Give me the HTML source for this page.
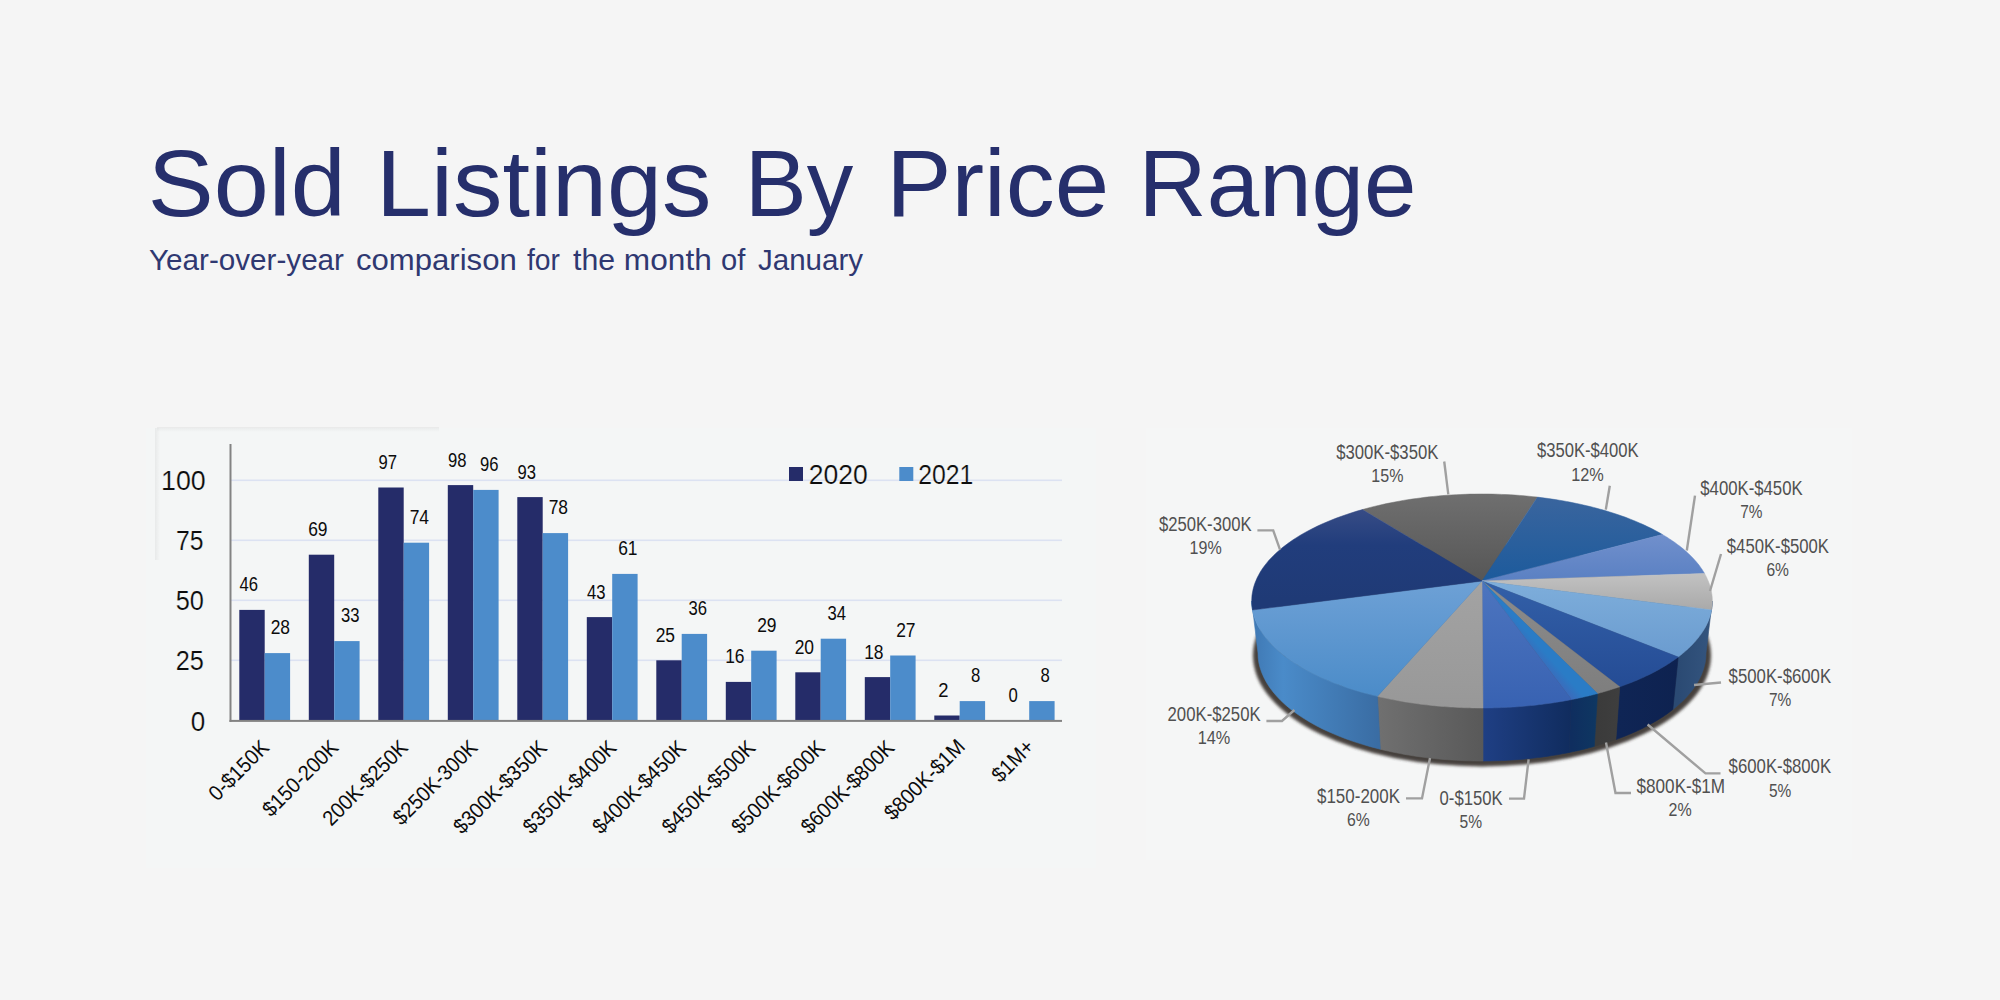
<!DOCTYPE html>
<html lang="en"><head><meta charset="utf-8"><title>Sold Listings By Price Range</title>
<style>
html,body{margin:0;padding:0;background:#f5f5f5;}
body{width:2000px;height:1000px;overflow:hidden;}
svg{display:block;}
text{font-family:"Liberation Sans",sans-serif;}
</style></head><body>
<svg width="2000" height="1000" viewBox="0 0 2000 1000">
<defs>
<filter id="blur3" x="-10%" y="-10%" width="120%" height="120%"><feGaussianBlur stdDeviation="1.6"/></filter>
<filter id="blur6" x="-10%" y="-10%" width="120%" height="120%"><feGaussianBlur stdDeviation="5"/></filter>
<linearGradient id="fadeL" x1="0" y1="0" x2="0" y2="1"><stop offset="0" stop-color="#000" stop-opacity="0.05"/><stop offset="1" stop-color="#000" stop-opacity="0"/></linearGradient>
<linearGradient id="fadeT" x1="0" y1="0" x2="1" y2="0"><stop offset="0" stop-color="#000" stop-opacity="0.05"/><stop offset="1" stop-color="#000" stop-opacity="0"/></linearGradient>

<linearGradient id="g_s300" gradientUnits="userSpaceOnUse" x1="0" y1="494" x2="0" y2="585"><stop offset="0" stop-color="#6f6f6f"/><stop offset="1" stop-color="#555555"/></linearGradient>
<linearGradient id="g_s350" gradientUnits="userSpaceOnUse" x1="0" y1="496" x2="0" y2="585"><stop offset="0" stop-color="#3a659e"/><stop offset="1" stop-color="#1b5a9c"/></linearGradient>
<linearGradient id="g_s400" gradientUnits="userSpaceOnUse" x1="0" y1="530" x2="0" y2="585"><stop offset="0" stop-color="#7391cd"/><stop offset="1" stop-color="#587fc2"/></linearGradient>
<linearGradient id="g_s450" gradientUnits="userSpaceOnUse" x1="0" y1="570" x2="0" y2="615"><stop offset="0" stop-color="#c4c4c4"/><stop offset="1" stop-color="#a6a6a6"/></linearGradient>
<linearGradient id="g_s500" gradientUnits="userSpaceOnUse" x1="0" y1="580" x2="0" y2="660"><stop offset="0" stop-color="#7eaedb"/><stop offset="1" stop-color="#6a9bcf"/></linearGradient>
<linearGradient id="g_s600" gradientUnits="userSpaceOnUse" x1="0" y1="580" x2="0" y2="690"><stop offset="0" stop-color="#3360a8"/><stop offset="1" stop-color="#244b94"/></linearGradient>
<linearGradient id="g_s800" gradientUnits="userSpaceOnUse" x1="0" y1="580" x2="0" y2="695"><stop offset="0" stop-color="#8c8c8c"/><stop offset="1" stop-color="#7e7e7e"/></linearGradient>
<linearGradient id="g_s1m" gradientUnits="userSpaceOnUse" x1="1474" y1="588.1" x2="1487.5" y2="576.2"><stop offset="0" stop-color="#3b6bbb"/><stop offset="0.6" stop-color="#2a7cc6"/><stop offset="1" stop-color="#2a7cc6"/></linearGradient>
<linearGradient id="g_s0" gradientUnits="userSpaceOnUse" x1="0" y1="580" x2="0" y2="708"><stop offset="0" stop-color="#4d75bf"/><stop offset="1" stop-color="#3862b2"/></linearGradient>
<linearGradient id="g_s150" gradientUnits="userSpaceOnUse" x1="0" y1="580" x2="0" y2="708"><stop offset="0" stop-color="#a3a3a3"/><stop offset="1" stop-color="#989898"/></linearGradient>
<linearGradient id="g_s200" gradientUnits="userSpaceOnUse" x1="0" y1="580" x2="0" y2="700"><stop offset="0" stop-color="#6ea1d6"/><stop offset="1" stop-color="#4a8bc8"/></linearGradient>
<linearGradient id="g_s250" gradientUnits="userSpaceOnUse" x1="0" y1="500" x2="0" y2="600"><stop offset="0" stop-color="#3d5088"/><stop offset="0.45" stop-color="#213d7c"/><stop offset="1" stop-color="#1f3a76"/></linearGradient>
<linearGradient id="g_w500" gradientUnits="userSpaceOnUse" x1="1678.2" y1="0" x2="1712.3" y2="0"><stop offset="0" stop-color="#2b4a73"/><stop offset="1" stop-color="#34557f"/></linearGradient>
<linearGradient id="g_w600" gradientUnits="userSpaceOnUse" x1="1619.7" y1="0" x2="1678.2" y2="0"><stop offset="0" stop-color="#0f2555"/><stop offset="1" stop-color="#0e2250"/></linearGradient>
<linearGradient id="g_w800" gradientUnits="userSpaceOnUse" x1="1597.5" y1="0" x2="1619.7" y2="0"><stop offset="0" stop-color="#3b3b3b"/><stop offset="1" stop-color="#3e3e3e"/></linearGradient>
<linearGradient id="g_w1m" gradientUnits="userSpaceOnUse" x1="1571.5" y1="0" x2="1597.5" y2="0"><stop offset="0" stop-color="#0f2e5f"/><stop offset="1" stop-color="#0e3762"/></linearGradient>
<linearGradient id="g_w0" gradientUnits="userSpaceOnUse" x1="1483.0" y1="0" x2="1571.5" y2="0"><stop offset="0" stop-color="#1f3f84"/><stop offset="1" stop-color="#102c5e"/></linearGradient>
<linearGradient id="g_w150" gradientUnits="userSpaceOnUse" x1="1377.5" y1="0" x2="1483.0" y2="0"><stop offset="0" stop-color="#707070"/><stop offset="1" stop-color="#595959"/></linearGradient>
<linearGradient id="g_w200" gradientUnits="userSpaceOnUse" x1="1251.7" y1="0" x2="1377.5" y2="0"><stop offset="0" stop-color="#3f78b3"/><stop offset="0.25" stop-color="#4a8bc9"/><stop offset="1" stop-color="#3a6da4"/></linearGradient>
</defs>
<rect width="2000" height="1000" fill="#f5f5f5"/>
<rect x="146" y="428" width="950" height="440" fill="#f4f6f6"/>
<rect x="1146" y="428" width="706" height="432" fill="#f5f6f6"/>
<rect x="157" y="427" width="282" height="5" fill="url(#fadeL)"/>
<rect x="155" y="428" width="5" height="132" fill="url(#fadeT)"/>
<text x="147.85" y="216" font-size="95.4" fill="#262f6c" textLength="198.03" lengthAdjust="spacingAndGlyphs">Sold</text>
<text x="376.14" y="216" font-size="95.4" fill="#262f6c" textLength="335.25" lengthAdjust="spacingAndGlyphs">Listings</text>
<text x="744.68" y="216" font-size="95.4" fill="#262f6c" textLength="108.53" lengthAdjust="spacingAndGlyphs">By</text>
<text x="886.32" y="216" font-size="95.4" fill="#262f6c" textLength="222.83" lengthAdjust="spacingAndGlyphs">Price</text>
<text x="1138.58" y="216" font-size="95.4" fill="#262f6c" textLength="277.93" lengthAdjust="spacingAndGlyphs">Range</text>
<text x="149.00" y="269.6" font-size="30" fill="#2f3871" textLength="194.99" lengthAdjust="spacingAndGlyphs">Year-over-year</text>
<text x="355.96" y="269.6" font-size="30" fill="#2f3871" textLength="160.78" lengthAdjust="spacingAndGlyphs">comparison</text>
<text x="527.00" y="269.6" font-size="30" fill="#2f3871" textLength="32.99" lengthAdjust="spacingAndGlyphs">for</text>
<text x="573.00" y="269.6" font-size="30" fill="#2f3871" textLength="42.09" lengthAdjust="spacingAndGlyphs">the</text>
<text x="623.89" y="269.6" font-size="30" fill="#2f3871" textLength="87.88" lengthAdjust="spacingAndGlyphs">month</text>
<text x="721.03" y="269.6" font-size="30" fill="#2f3871" textLength="24.33" lengthAdjust="spacingAndGlyphs">of</text>
<text x="758.00" y="269.6" font-size="30" fill="#2f3871" textLength="105.00" lengthAdjust="spacingAndGlyphs">January</text>
<g id="bars">
<rect x="230.5" y="659.5" width="831.5" height="1.6" fill="#dce2f2"/>
<rect x="230.5" y="599.5" width="831.5" height="1.6" fill="#dce2f2"/>
<rect x="230.5" y="539.5" width="831.5" height="1.6" fill="#dce2f2"/>
<rect x="230.5" y="479.5" width="831.5" height="1.6" fill="#dce2f2"/>
<rect x="239.3" y="609.9" width="25.4" height="110.8" fill="#252c69"/>
<rect x="264.7" y="653.1" width="25.4" height="67.6" fill="#4c8ccb"/>
<rect x="308.8" y="554.7" width="25.4" height="166.0" fill="#252c69"/>
<rect x="334.2" y="641.1" width="25.4" height="79.6" fill="#4c8ccb"/>
<rect x="378.3" y="487.5" width="25.4" height="233.2" fill="#252c69"/>
<rect x="403.7" y="542.7" width="25.4" height="178.0" fill="#4c8ccb"/>
<rect x="447.8" y="485.1" width="25.4" height="235.6" fill="#252c69"/>
<rect x="473.2" y="489.9" width="25.4" height="230.8" fill="#4c8ccb"/>
<rect x="517.3" y="497.1" width="25.4" height="223.6" fill="#252c69"/>
<rect x="542.7" y="533.1" width="25.4" height="187.6" fill="#4c8ccb"/>
<rect x="586.8" y="617.1" width="25.4" height="103.6" fill="#252c69"/>
<rect x="612.2" y="573.9" width="25.4" height="146.8" fill="#4c8ccb"/>
<rect x="656.3" y="660.3" width="25.4" height="60.4" fill="#252c69"/>
<rect x="681.7" y="633.9" width="25.4" height="86.8" fill="#4c8ccb"/>
<rect x="725.8" y="681.9" width="25.4" height="38.8" fill="#252c69"/>
<rect x="751.2" y="650.7" width="25.4" height="70.0" fill="#4c8ccb"/>
<rect x="795.3" y="672.3" width="25.4" height="48.4" fill="#252c69"/>
<rect x="820.7" y="638.7" width="25.4" height="82.0" fill="#4c8ccb"/>
<rect x="864.8" y="677.1" width="25.4" height="43.6" fill="#252c69"/>
<rect x="890.2" y="655.5" width="25.4" height="65.2" fill="#4c8ccb"/>
<rect x="934.3" y="715.5" width="25.4" height="5.2" fill="#252c69"/>
<rect x="959.7" y="701.1" width="25.4" height="19.6" fill="#4c8ccb"/>
<rect x="1029.2" y="701.1" width="25.4" height="19.6" fill="#4c8ccb"/>
<rect x="229.5" y="444" width="2" height="277.9" fill="#838383"/>
<rect x="229.5" y="719.9" width="832.5" height="2" fill="#838383"/>
<text x="239.50" y="591.4" font-size="20" fill="#0c0c0c" textLength="18.50" lengthAdjust="spacingAndGlyphs">46</text>
<text x="270.63" y="634.4" font-size="20" fill="#0c0c0c" textLength="19.38" lengthAdjust="spacingAndGlyphs">28</text>
<text x="308.13" y="536.2" font-size="20" fill="#0c0c0c" textLength="19.38" lengthAdjust="spacingAndGlyphs">69</text>
<text x="341.00" y="622.4" font-size="20" fill="#0c0c0c" textLength="18.50" lengthAdjust="spacingAndGlyphs">33</text>
<text x="378.50" y="469.0" font-size="20" fill="#0c0c0c" textLength="18.50" lengthAdjust="spacingAndGlyphs">97</text>
<text x="409.63" y="524.0" font-size="20" fill="#0c0c0c" textLength="19.38" lengthAdjust="spacingAndGlyphs">74</text>
<text x="448.00" y="466.6" font-size="20" fill="#0c0c0c" textLength="18.50" lengthAdjust="spacingAndGlyphs">98</text>
<text x="480.00" y="471.2" font-size="20" fill="#0c0c0c" textLength="18.50" lengthAdjust="spacingAndGlyphs">96</text>
<text x="517.50" y="478.6" font-size="20" fill="#0c0c0c" textLength="18.50" lengthAdjust="spacingAndGlyphs">93</text>
<text x="548.63" y="514.4" font-size="20" fill="#0c0c0c" textLength="19.38" lengthAdjust="spacingAndGlyphs">78</text>
<text x="587.00" y="598.6" font-size="20" fill="#0c0c0c" textLength="18.50" lengthAdjust="spacingAndGlyphs">43</text>
<text x="618.13" y="555.2" font-size="20" fill="#0c0c0c" textLength="19.38" lengthAdjust="spacingAndGlyphs">61</text>
<text x="655.63" y="641.8" font-size="20" fill="#0c0c0c" textLength="19.38" lengthAdjust="spacingAndGlyphs">25</text>
<text x="688.50" y="615.2" font-size="20" fill="#0c0c0c" textLength="18.50" lengthAdjust="spacingAndGlyphs">36</text>
<text x="725.13" y="663.4" font-size="20" fill="#0c0c0c" textLength="19.38" lengthAdjust="spacingAndGlyphs">16</text>
<text x="757.13" y="632.0" font-size="20" fill="#0c0c0c" textLength="19.38" lengthAdjust="spacingAndGlyphs">29</text>
<text x="794.63" y="653.8" font-size="20" fill="#0c0c0c" textLength="19.38" lengthAdjust="spacingAndGlyphs">20</text>
<text x="827.50" y="620.0" font-size="20" fill="#0c0c0c" textLength="18.50" lengthAdjust="spacingAndGlyphs">34</text>
<text x="864.13" y="658.6" font-size="20" fill="#0c0c0c" textLength="19.38" lengthAdjust="spacingAndGlyphs">18</text>
<text x="896.13" y="636.8" font-size="20" fill="#0c0c0c" textLength="19.38" lengthAdjust="spacingAndGlyphs">27</text>
<text x="938.18" y="697.0" font-size="20" fill="#0c0c0c" textLength="10.23" lengthAdjust="spacingAndGlyphs">2</text>
<text x="971.10" y="682.4" font-size="20" fill="#0c0c0c" textLength="9.30" lengthAdjust="spacingAndGlyphs">8</text>
<text x="1008.60" y="701.8" font-size="20" fill="#0c0c0c" textLength="9.30" lengthAdjust="spacingAndGlyphs">0</text>
<text x="1040.60" y="682.4" font-size="20" fill="#0c0c0c" textLength="9.30" lengthAdjust="spacingAndGlyphs">8</text>
<text x="161.07" y="490" font-size="27.8" fill="#0c0c0c" textLength="44.67" lengthAdjust="spacingAndGlyphs" stroke="#f4f6f6" stroke-width="0.2">100</text>
<text x="175.91" y="550" font-size="27.8" fill="#0c0c0c" textLength="27.50" lengthAdjust="spacingAndGlyphs" stroke="#f4f6f6" stroke-width="0.2">75</text>
<text x="175.79" y="610.3" font-size="27.8" fill="#0c0c0c" textLength="28.13" lengthAdjust="spacingAndGlyphs" stroke="#f4f6f6" stroke-width="0.2">50</text>
<text x="175.79" y="670.4" font-size="27.8" fill="#0c0c0c" textLength="28.13" lengthAdjust="spacingAndGlyphs" stroke="#f4f6f6" stroke-width="0.2">25</text>
<text x="190.66" y="730.6" font-size="27.8" fill="#0c0c0c" textLength="14.47" lengthAdjust="spacingAndGlyphs" stroke="#f4f6f6" stroke-width="0.2">0</text>
<text x="-75.50" y="0" font-size="21.4" fill="#0c0c0c" textLength="74.82" lengthAdjust="spacingAndGlyphs" transform="translate(270.7,748.5) rotate(-45)">0-$150K</text>
<text x="-98.00" y="0" font-size="21.4" fill="#0c0c0c" textLength="97.32" lengthAdjust="spacingAndGlyphs" transform="translate(340.2,748.5) rotate(-45)">$150-200K</text>
<text x="-110.93" y="0" font-size="21.4" fill="#0c0c0c" textLength="110.25" lengthAdjust="spacingAndGlyphs" transform="translate(409.7,748.5) rotate(-45)">200K-$250K</text>
<text x="-110.00" y="0" font-size="21.4" fill="#0c0c0c" textLength="109.33" lengthAdjust="spacingAndGlyphs" transform="translate(479.2,748.5) rotate(-45)">$250K-300K</text>
<text x="-122.50" y="0" font-size="21.4" fill="#0c0c0c" textLength="121.82" lengthAdjust="spacingAndGlyphs" transform="translate(548.7,748.5) rotate(-45)">$300K-$350K</text>
<text x="-122.50" y="0" font-size="21.4" fill="#0c0c0c" textLength="121.82" lengthAdjust="spacingAndGlyphs" transform="translate(618.2,748.5) rotate(-45)">$350K-$400K</text>
<text x="-122.50" y="0" font-size="21.4" fill="#0c0c0c" textLength="121.82" lengthAdjust="spacingAndGlyphs" transform="translate(687.7,748.5) rotate(-45)">$400K-$450K</text>
<text x="-122.50" y="0" font-size="21.4" fill="#0c0c0c" textLength="121.82" lengthAdjust="spacingAndGlyphs" transform="translate(757.2,748.5) rotate(-45)">$450K-$500K</text>
<text x="-122.50" y="0" font-size="21.4" fill="#0c0c0c" textLength="121.82" lengthAdjust="spacingAndGlyphs" transform="translate(826.7,748.5) rotate(-45)">$500K-$600K</text>
<text x="-122.50" y="0" font-size="21.4" fill="#0c0c0c" textLength="121.82" lengthAdjust="spacingAndGlyphs" transform="translate(896.2,748.5) rotate(-45)">$600K-$800K</text>
<text x="-103.00" y="0" font-size="21.4" fill="#0c0c0c" textLength="103.77" lengthAdjust="spacingAndGlyphs" transform="translate(965.7,748.5) rotate(-45)">$800K-$1M</text>
<text x="-49.50" y="0" font-size="21.4" fill="#0c0c0c" textLength="49.95" lengthAdjust="spacingAndGlyphs" transform="translate(1035.2,748.5) rotate(-45)">$1M+</text>
<rect x="789" y="467" width="14" height="14" fill="#252c69"/>
<text x="808.72" y="483.5" font-size="27" fill="#0c0c0c" textLength="58.98" lengthAdjust="spacingAndGlyphs" stroke="#f4f6f6" stroke-width="0.2">2020</text>
<rect x="899.3" y="467" width="14" height="14" fill="#4c8ccb"/>
<text x="918.28" y="483.5" font-size="27" fill="#0c0c0c" textLength="55.15" lengthAdjust="spacingAndGlyphs" stroke="#f4f6f6" stroke-width="0.2">2021</text>
</g>
<g id="pie">
<ellipse cx="1482" cy="655.5" rx="229" ry="111" fill="#37322f" opacity="0.92" filter="url(#blur3)"/>
<path d="M1712.3,601.0 L1712.2,603.5 L1712.1,605.9 L1711.8,608.4 L1711.3,610.8 L1710.8,613.3 L1710.1,615.7 L1709.3,618.1 L1708.4,620.6 L1707.4,623.0 L1706.2,625.4 L1705.0,627.8 L1703.6,630.1 L1702.1,632.5 L1700.5,634.8 L1698.8,637.1 L1696.9,639.4 L1695.0,641.7 L1692.9,644.0 L1690.7,646.2 L1688.4,648.4 L1686.0,650.6 L1683.5,652.8 L1680.9,654.9 L1678.2,657.0 L1672.8,709.6 L1675.5,707.4 L1678.0,705.3 L1680.4,703.1 L1682.8,700.9 L1685.0,698.7 L1687.1,696.4 L1689.1,694.1 L1691.0,691.8 L1692.8,689.5 L1694.5,687.1 L1696.1,684.8 L1697.5,682.4 L1698.9,680.0 L1700.1,677.6 L1701.2,675.2 L1702.2,672.7 L1703.1,670.3 L1703.9,667.8 L1704.5,665.4 L1705.1,662.9 L1705.5,660.4 L1705.8,658.0 L1705.9,655.5 L1706.0,653.0Z" fill="url(#g_w500)" stroke="url(#g_w500)" stroke-width="0.6"/>
<path d="M1678.2,657.0 L1676.2,658.5 L1674.3,659.9 L1672.2,661.3 L1670.2,662.7 L1668.1,664.1 L1665.9,665.4 L1663.7,666.8 L1661.4,668.1 L1659.1,669.4 L1656.8,670.7 L1654.4,672.0 L1652.0,673.2 L1649.5,674.4 L1647.0,675.7 L1644.4,676.9 L1641.8,678.0 L1639.2,679.2 L1636.5,680.4 L1633.8,681.5 L1631.0,682.6 L1628.2,683.7 L1625.4,684.7 L1622.5,685.8 L1619.7,686.8 L1615.9,739.6 L1618.7,738.6 L1621.5,737.5 L1624.2,736.4 L1627.0,735.3 L1629.6,734.2 L1632.3,733.1 L1634.9,731.9 L1637.4,730.8 L1640.0,729.6 L1642.5,728.4 L1644.9,727.1 L1647.3,725.9 L1649.7,724.6 L1652.0,723.3 L1654.3,722.0 L1656.5,720.7 L1658.7,719.4 L1660.9,718.0 L1663.0,716.7 L1665.0,715.3 L1667.0,713.9 L1669.0,712.4 L1670.9,711.0 L1672.8,709.6Z" fill="url(#g_w600)" stroke="url(#g_w600)" stroke-width="0.6"/>
<path d="M1619.7,686.8 L1618.8,687.1 L1617.9,687.4 L1617.0,687.7 L1616.1,688.0 L1615.2,688.3 L1614.3,688.6 L1613.4,688.9 L1612.4,689.2 L1611.5,689.5 L1610.6,689.8 L1609.7,690.0 L1608.8,690.3 L1607.8,690.6 L1606.9,690.9 L1606.0,691.2 L1605.1,691.4 L1604.1,691.7 L1603.2,692.0 L1602.2,692.3 L1601.3,692.5 L1600.3,692.8 L1599.4,693.1 L1598.4,693.3 L1597.5,693.6 L1594.3,746.4 L1595.2,746.2 L1596.2,745.9 L1597.1,745.7 L1598.0,745.4 L1598.9,745.1 L1599.9,744.8 L1600.8,744.6 L1601.7,744.3 L1602.6,744.0 L1603.5,743.7 L1604.4,743.4 L1605.3,743.2 L1606.2,742.9 L1607.1,742.6 L1608.0,742.3 L1608.9,742.0 L1609.8,741.7 L1610.6,741.4 L1611.5,741.1 L1612.4,740.8 L1613.3,740.5 L1614.2,740.2 L1615.0,739.9 L1615.9,739.6Z" fill="url(#g_w800)" stroke="url(#g_w800)" stroke-width="0.6"/>
<path d="M1597.5,693.6 L1596.4,693.9 L1595.4,694.1 L1594.3,694.4 L1593.3,694.7 L1592.2,695.0 L1591.1,695.2 L1590.1,695.5 L1589.0,695.8 L1587.9,696.0 L1586.8,696.3 L1585.8,696.5 L1584.7,696.8 L1583.6,697.0 L1582.5,697.3 L1581.4,697.5 L1580.3,697.8 L1579.2,698.0 L1578.1,698.2 L1577.0,698.5 L1575.9,698.7 L1574.8,698.9 L1573.7,699.2 L1572.6,699.4 L1571.5,699.6 L1569.0,752.5 L1570.1,752.3 L1571.2,752.1 L1572.3,751.8 L1573.3,751.6 L1574.4,751.4 L1575.5,751.1 L1576.5,750.9 L1577.6,750.7 L1578.7,750.4 L1579.7,750.2 L1580.8,749.9 L1581.9,749.7 L1582.9,749.4 L1584.0,749.2 L1585.0,748.9 L1586.1,748.6 L1587.1,748.4 L1588.1,748.1 L1589.2,747.8 L1590.2,747.6 L1591.2,747.3 L1592.3,747.0 L1593.3,746.7 L1594.3,746.4Z" fill="url(#g_w1m)" stroke="url(#g_w1m)" stroke-width="0.6"/>
<path d="M1571.5,699.6 L1567.9,700.3 L1564.4,700.9 L1560.9,701.5 L1557.3,702.1 L1553.7,702.7 L1550.1,703.2 L1546.5,703.7 L1542.8,704.2 L1539.2,704.6 L1535.5,705.1 L1531.8,705.5 L1528.1,705.8 L1524.4,706.2 L1520.7,706.5 L1516.9,706.8 L1513.2,707.0 L1509.4,707.2 L1505.7,707.4 L1501.9,707.6 L1498.1,707.7 L1494.4,707.8 L1490.6,707.9 L1486.8,708.0 L1483.0,708.0 L1483.0,761.0 L1486.7,761.0 L1490.3,760.9 L1494.0,760.8 L1497.7,760.7 L1501.4,760.6 L1505.0,760.4 L1508.7,760.2 L1512.3,760.0 L1516.0,759.7 L1519.6,759.5 L1523.2,759.2 L1526.9,758.8 L1530.5,758.4 L1534.0,758.0 L1537.6,757.6 L1541.2,757.2 L1544.7,756.7 L1548.3,756.2 L1551.8,755.6 L1555.3,755.1 L1558.7,754.5 L1562.2,753.8 L1565.6,753.2 L1569.0,752.5Z" fill="url(#g_w0)" stroke="url(#g_w0)" stroke-width="0.6"/>
<path d="M1483.0,708.0 L1478.4,708.0 L1473.9,707.9 L1469.3,707.8 L1464.8,707.7 L1460.2,707.5 L1455.7,707.3 L1451.2,707.0 L1446.6,706.7 L1442.1,706.4 L1437.7,706.0 L1433.2,705.6 L1428.7,705.1 L1424.3,704.6 L1419.9,704.0 L1415.5,703.4 L1411.2,702.8 L1406.8,702.1 L1402.5,701.4 L1398.3,700.7 L1394.0,699.9 L1389.8,699.1 L1385.7,698.2 L1381.5,697.3 L1377.5,696.3 L1380.3,749.2 L1384.3,750.2 L1388.3,751.1 L1392.4,752.0 L1396.4,752.8 L1400.6,753.6 L1404.7,754.4 L1408.9,755.1 L1413.1,755.8 L1417.3,756.4 L1421.6,757.0 L1425.9,757.6 L1430.2,758.1 L1434.5,758.5 L1438.9,759.0 L1443.2,759.4 L1447.6,759.7 L1452.0,760.0 L1456.4,760.3 L1460.8,760.5 L1465.2,760.7 L1469.7,760.8 L1474.1,760.9 L1478.5,761.0 L1483.0,761.0Z" fill="url(#g_w150)" stroke="url(#g_w150)" stroke-width="0.6"/>
<path d="M1377.5,696.3 L1368.2,694.0 L1359.1,691.5 L1350.3,688.8 L1341.8,685.9 L1333.6,682.8 L1325.7,679.6 L1318.1,676.2 L1310.9,672.6 L1304.0,668.9 L1297.5,665.0 L1291.4,661.0 L1285.6,656.9 L1280.3,652.7 L1275.5,648.3 L1271.0,643.9 L1267.0,639.3 L1263.4,634.7 L1260.3,630.0 L1257.7,625.3 L1255.6,620.5 L1253.9,615.7 L1252.7,610.8 L1251.9,605.9 L1251.7,601.0 L1258.0,653.0 L1258.2,657.9 L1258.9,662.9 L1260.1,667.8 L1261.8,672.7 L1263.9,677.5 L1266.4,682.3 L1269.4,687.0 L1272.9,691.7 L1276.8,696.3 L1281.1,700.8 L1285.9,705.2 L1291.0,709.4 L1296.6,713.6 L1302.5,717.6 L1308.9,721.5 L1315.5,725.3 L1322.6,728.9 L1330.0,732.3 L1337.7,735.6 L1345.7,738.7 L1353.9,741.6 L1362.5,744.3 L1371.3,746.9 L1380.3,749.2Z" fill="url(#g_w200)" stroke="url(#g_w200)" stroke-width="0.6"/>
<path d="M1482,581 L1362.4,509.6 L1366.3,508.5 L1370.3,507.4 L1374.3,506.4 L1378.3,505.5 L1382.4,504.5 L1386.5,503.6 L1390.7,502.8 L1394.8,502.0 L1399.1,501.2 L1403.3,500.4 L1407.6,499.7 L1411.9,499.1 L1416.3,498.5 L1420.6,497.9 L1425.0,497.3 L1429.4,496.8 L1433.9,496.4 L1438.3,495.9 L1442.8,495.6 L1447.3,495.2 L1451.8,494.9 L1456.3,494.7 L1460.8,494.5 L1465.3,494.3 L1469.9,494.1 L1474.4,494.1 L1478.9,494.0 L1483.5,494.0 L1488.0,494.0 L1492.6,494.1 L1497.1,494.2 L1501.6,494.4 L1506.2,494.6 L1510.7,494.8 L1515.2,495.1 L1519.7,495.4 L1524.1,495.8 L1528.6,496.2 L1533.0,496.7 L1537.5,497.1Z" fill="url(#g_s300)" stroke="url(#g_s300)" stroke-width="0.5"/>
<path d="M1482,581 L1537.5,497.1 L1541.1,497.6 L1544.8,498.1 L1548.4,498.5 L1552.0,499.1 L1555.6,499.6 L1559.2,500.2 L1562.7,500.8 L1566.3,501.4 L1569.8,502.1 L1573.2,502.8 L1576.7,503.5 L1580.1,504.2 L1583.5,505.0 L1586.9,505.8 L1590.3,506.6 L1593.6,507.4 L1596.9,508.3 L1600.2,509.2 L1603.4,510.1 L1606.6,511.0 L1609.7,512.0 L1612.9,513.0 L1616.0,514.0 L1619.0,515.0 L1622.0,516.1 L1625.0,517.1 L1628.0,518.2 L1630.9,519.4 L1633.7,520.5 L1636.6,521.7 L1639.4,522.9 L1642.1,524.1 L1644.8,525.3 L1647.4,526.6 L1650.0,527.8 L1652.6,529.1 L1655.1,530.4 L1657.6,531.8 L1660.0,533.1 L1662.4,534.5Z" fill="url(#g_s350)" stroke="url(#g_s350)" stroke-width="0.5"/>
<path d="M1482,581 L1662.4,534.5 L1663.9,535.4 L1665.3,536.2 L1666.7,537.1 L1668.1,538.0 L1669.5,538.9 L1670.9,539.8 L1672.2,540.7 L1673.5,541.6 L1674.9,542.5 L1676.1,543.4 L1677.4,544.4 L1678.6,545.3 L1679.9,546.2 L1681.1,547.2 L1682.2,548.1 L1683.4,549.1 L1684.5,550.1 L1685.7,551.0 L1686.7,552.0 L1687.8,553.0 L1688.9,554.0 L1689.9,555.0 L1690.9,556.0 L1691.9,557.0 L1692.9,558.0 L1693.8,559.0 L1694.7,560.0 L1695.6,561.0 L1696.5,562.0 L1697.3,563.1 L1698.2,564.1 L1699.0,565.1 L1699.8,566.2 L1700.5,567.2 L1701.2,568.3 L1702.0,569.3 L1702.7,570.4 L1703.3,571.4 L1704.0,572.5 L1704.6,573.5Z" fill="url(#g_s400)" stroke="url(#g_s400)" stroke-width="0.5"/>
<path d="M1482,581 L1704.6,573.5 L1705.1,574.4 L1705.6,575.3 L1706.0,576.2 L1706.5,577.1 L1706.9,578.0 L1707.3,578.9 L1707.7,579.8 L1708.1,580.7 L1708.5,581.6 L1708.8,582.5 L1709.2,583.4 L1709.5,584.3 L1709.8,585.2 L1710.1,586.1 L1710.3,587.1 L1710.6,588.0 L1710.8,588.9 L1711.0,589.8 L1711.2,590.7 L1711.4,591.6 L1711.6,592.6 L1711.7,593.5 L1711.9,594.4 L1712.0,595.3 L1712.1,596.2 L1712.2,597.1 L1712.2,598.1 L1712.3,599.0 L1712.3,599.9 L1712.3,600.8 L1712.3,601.7 L1712.3,602.7 L1712.2,603.6 L1712.2,604.5 L1712.1,605.4 L1712.0,606.3 L1711.9,607.3 L1711.8,608.2 L1711.6,609.1 L1711.5,610.0Z" fill="url(#g_s450)" stroke="url(#g_s450)" stroke-width="0.5"/>
<path d="M1482,581 L1711.5,610.0 L1711.2,611.3 L1711.0,612.5 L1710.7,613.7 L1710.3,615.0 L1710.0,616.2 L1709.6,617.5 L1709.1,618.7 L1708.7,619.9 L1708.2,621.2 L1707.7,622.4 L1707.1,623.6 L1706.5,624.8 L1705.9,626.0 L1705.3,627.2 L1704.6,628.5 L1703.9,629.7 L1703.1,630.9 L1702.4,632.1 L1701.6,633.3 L1700.8,634.4 L1699.9,635.6 L1699.0,636.8 L1698.1,638.0 L1697.2,639.1 L1696.2,640.3 L1695.2,641.5 L1694.2,642.6 L1693.1,643.8 L1692.0,644.9 L1690.9,646.1 L1689.7,647.2 L1688.6,648.3 L1687.4,649.4 L1686.1,650.5 L1684.9,651.6 L1683.6,652.7 L1682.3,653.8 L1680.9,654.9 L1679.6,656.0 L1678.2,657.0Z" fill="url(#g_s500)" stroke="url(#g_s500)" stroke-width="0.5"/>
<path d="M1482,581 L1678.2,657.0 L1677.0,657.9 L1675.9,658.8 L1674.7,659.6 L1673.5,660.5 L1672.2,661.3 L1671.0,662.1 L1669.8,663.0 L1668.5,663.8 L1667.2,664.6 L1665.9,665.4 L1664.6,666.2 L1663.2,667.0 L1661.9,667.8 L1660.5,668.6 L1659.1,669.4 L1657.7,670.2 L1656.3,670.9 L1654.9,671.7 L1653.4,672.5 L1652.0,673.2 L1650.5,674.0 L1649.0,674.7 L1647.5,675.4 L1645.9,676.1 L1644.4,676.9 L1642.9,677.6 L1641.3,678.3 L1639.7,679.0 L1638.1,679.7 L1636.5,680.4 L1634.9,681.0 L1633.2,681.7 L1631.6,682.4 L1629.9,683.0 L1628.2,683.7 L1626.5,684.3 L1624.8,684.9 L1623.1,685.6 L1621.4,686.2 L1619.7,686.8Z" fill="url(#g_s600)" stroke="url(#g_s600)" stroke-width="0.5"/>
<path d="M1482,581 L1619.7,686.8 L1619.1,687.0 L1618.6,687.2 L1618.0,687.3 L1617.5,687.5 L1617.0,687.7 L1616.4,687.9 L1615.9,688.1 L1615.4,688.2 L1614.8,688.4 L1614.3,688.6 L1613.7,688.8 L1613.2,688.9 L1612.6,689.1 L1612.1,689.3 L1611.5,689.5 L1611.0,689.6 L1610.4,689.8 L1609.9,690.0 L1609.3,690.2 L1608.8,690.3 L1608.2,690.5 L1607.7,690.7 L1607.1,690.8 L1606.5,691.0 L1606.0,691.2 L1605.4,691.3 L1604.9,691.5 L1604.3,691.7 L1603.7,691.8 L1603.2,692.0 L1602.6,692.2 L1602.0,692.3 L1601.5,692.5 L1600.9,692.6 L1600.3,692.8 L1599.8,693.0 L1599.2,693.1 L1598.6,693.3 L1598.0,693.4 L1597.5,693.6Z" fill="url(#g_s800)" stroke="url(#g_s800)" stroke-width="0.5"/>
<path d="M1482,581 L1597.5,693.6 L1596.8,693.7 L1596.2,693.9 L1595.6,694.1 L1594.9,694.2 L1594.3,694.4 L1593.7,694.6 L1593.0,694.7 L1592.4,694.9 L1591.8,695.1 L1591.1,695.2 L1590.5,695.4 L1589.8,695.5 L1589.2,695.7 L1588.6,695.9 L1587.9,696.0 L1587.3,696.2 L1586.6,696.3 L1586.0,696.5 L1585.3,696.6 L1584.7,696.8 L1584.0,696.9 L1583.4,697.1 L1582.7,697.2 L1582.1,697.4 L1581.4,697.5 L1580.7,697.7 L1580.1,697.8 L1579.4,698.0 L1578.8,698.1 L1578.1,698.2 L1577.4,698.4 L1576.8,698.5 L1576.1,698.7 L1575.5,698.8 L1574.8,698.9 L1574.1,699.1 L1573.5,699.2 L1572.8,699.3 L1572.1,699.5 L1571.5,699.6Z" fill="url(#g_s1m)" stroke="url(#g_s1m)" stroke-width="0.5"/>
<path d="M1482,581 L1571.5,699.6 L1569.4,700.0 L1567.2,700.4 L1565.1,700.8 L1563.0,701.2 L1560.9,701.5 L1558.7,701.9 L1556.6,702.2 L1554.4,702.6 L1552.3,702.9 L1550.1,703.2 L1547.9,703.5 L1545.8,703.8 L1543.6,704.1 L1541.4,704.4 L1539.2,704.6 L1537.0,704.9 L1534.8,705.2 L1532.6,705.4 L1530.3,705.6 L1528.1,705.8 L1525.9,706.0 L1523.7,706.2 L1521.4,706.4 L1519.2,706.6 L1516.9,706.8 L1514.7,706.9 L1512.4,707.1 L1510.2,707.2 L1507.9,707.3 L1505.7,707.4 L1503.4,707.5 L1501.2,707.6 L1498.9,707.7 L1496.6,707.8 L1494.4,707.8 L1492.1,707.9 L1489.8,707.9 L1487.5,708.0 L1485.3,708.0 L1483.0,708.0Z" fill="url(#g_s0)" stroke="url(#g_s0)" stroke-width="0.5"/>
<path d="M1482,581 L1483.0,708.0 L1480.3,708.0 L1477.5,708.0 L1474.8,707.9 L1472.1,707.9 L1469.3,707.8 L1466.6,707.8 L1463.9,707.7 L1461.1,707.6 L1458.4,707.4 L1455.7,707.3 L1453.0,707.1 L1450.2,707.0 L1447.5,706.8 L1444.8,706.6 L1442.1,706.4 L1439.4,706.2 L1436.8,705.9 L1434.1,705.7 L1431.4,705.4 L1428.7,705.1 L1426.1,704.8 L1423.4,704.5 L1420.8,704.2 L1418.1,703.8 L1415.5,703.4 L1412.9,703.1 L1410.3,702.7 L1407.7,702.3 L1405.1,701.9 L1402.5,701.4 L1400.0,701.0 L1397.4,700.5 L1394.9,700.0 L1392.4,699.6 L1389.8,699.1 L1387.3,698.5 L1384.8,698.0 L1382.4,697.5 L1379.9,696.9 L1377.5,696.3Z" fill="url(#g_s150)" stroke="url(#g_s150)" stroke-width="0.5"/>
<path d="M1482,581 L1377.5,696.3 L1372.3,695.1 L1367.2,693.8 L1362.2,692.4 L1357.2,690.9 L1352.3,689.4 L1347.5,687.9 L1342.8,686.3 L1338.2,684.6 L1333.7,682.9 L1329.3,681.1 L1325.0,679.3 L1320.7,677.4 L1316.6,675.5 L1312.6,673.5 L1308.7,671.5 L1304.9,669.4 L1301.2,667.3 L1297.7,665.1 L1294.2,662.9 L1290.9,660.7 L1287.7,658.4 L1284.6,656.1 L1281.7,653.8 L1278.9,651.4 L1276.2,649.0 L1273.6,646.5 L1271.2,644.1 L1268.9,641.6 L1266.8,639.1 L1264.7,636.5 L1262.9,633.9 L1261.1,631.3 L1259.6,628.7 L1258.1,626.1 L1256.8,623.4 L1255.7,620.8 L1254.7,618.1 L1253.8,615.4 L1253.1,612.7 L1252.5,610.0Z" fill="url(#g_s200)" stroke="url(#g_s200)" stroke-width="0.5"/>
<path d="M1482,581 L1252.5,610.0 L1252.1,607.1 L1251.8,604.1 L1251.7,601.1 L1251.8,598.2 L1252.0,595.2 L1252.5,592.2 L1253.1,589.3 L1253.9,586.3 L1254.8,583.4 L1256.0,580.5 L1257.3,577.6 L1258.8,574.7 L1260.4,571.8 L1262.2,569.0 L1264.2,566.2 L1266.4,563.4 L1268.7,560.6 L1271.2,557.9 L1273.9,555.2 L1276.7,552.5 L1279.7,549.9 L1282.8,547.3 L1286.1,544.8 L1289.5,542.3 L1293.1,539.8 L1296.8,537.4 L1300.7,535.0 L1304.7,532.7 L1308.8,530.5 L1313.1,528.3 L1317.5,526.1 L1322.0,524.0 L1326.7,522.0 L1331.5,520.0 L1336.4,518.1 L1341.4,516.3 L1346.5,514.5 L1351.7,512.8 L1357.0,511.1 L1362.4,509.6Z" fill="url(#g_s250)" stroke="url(#g_s250)" stroke-width="0.5"/>
<polyline points="1257.4,530.4 1273.2,530.4 1280,549.7" fill="none" stroke="#a0a0a0" stroke-width="2.4"/>
<polyline points="1444.2,461.5 1448.3,494.4" fill="none" stroke="#a0a0a0" stroke-width="2.4"/>
<polyline points="1609.8,485.7 1605.8,509.6" fill="none" stroke="#a0a0a0" stroke-width="2.4"/>
<polyline points="1695,495.6 1686.8,550.5" fill="none" stroke="#a0a0a0" stroke-width="2.4"/>
<polyline points="1721,554 1710,591" fill="none" stroke="#a0a0a0" stroke-width="2.4"/>
<polyline points="1721,682.5 1694,685" fill="none" stroke="#a0a0a0" stroke-width="2.4"/>
<polyline points="1720.5,773.4 1705.5,773.4 1647.6,724.5" fill="none" stroke="#a0a0a0" stroke-width="2.4"/>
<polyline points="1631,793 1615.5,793 1606,742.5" fill="none" stroke="#a0a0a0" stroke-width="2.4"/>
<polyline points="1509,798.6 1524,798.6 1528.6,759.4" fill="none" stroke="#a0a0a0" stroke-width="2.4"/>
<polyline points="1406,798.4 1422,798.4 1430,758" fill="none" stroke="#a0a0a0" stroke-width="2.4"/>
<polyline points="1266.4,721 1282,721 1294.4,710" fill="none" stroke="#a0a0a0" stroke-width="2.4"/>
<text x="1158.90" y="530.8" font-size="20.3" fill="#505050" textLength="92.71" lengthAdjust="spacingAndGlyphs">$250K-300K</text>
<text x="1189.55" y="554.0" font-size="18.8" fill="#505050" textLength="32.10" lengthAdjust="spacingAndGlyphs">19%</text>
<text x="1336.20" y="458.8" font-size="20.3" fill="#505050" textLength="102.21" lengthAdjust="spacingAndGlyphs">$300K-$350K</text>
<text x="1371.35" y="482.0" font-size="18.8" fill="#505050" textLength="32.10" lengthAdjust="spacingAndGlyphs">15%</text>
<text x="1536.90" y="457.3" font-size="20.3" fill="#505050" textLength="101.71" lengthAdjust="spacingAndGlyphs">$350K-$400K</text>
<text x="1571.13" y="480.5" font-size="18.8" fill="#505050" textLength="32.61" lengthAdjust="spacingAndGlyphs">12%</text>
<text x="1700.30" y="495" font-size="20.3" fill="#505050" textLength="102.31" lengthAdjust="spacingAndGlyphs">$400K-$450K</text>
<text x="1740.30" y="518.2" font-size="18.8" fill="#505050" textLength="22.25" lengthAdjust="spacingAndGlyphs">7%</text>
<text x="1726.80" y="553.2" font-size="20.3" fill="#505050" textLength="102.21" lengthAdjust="spacingAndGlyphs">$450K-$500K</text>
<text x="1766.40" y="576.4" font-size="18.8" fill="#505050" textLength="22.55" lengthAdjust="spacingAndGlyphs">6%</text>
<text x="1728.60" y="682.5" font-size="20.3" fill="#505050" textLength="102.51" lengthAdjust="spacingAndGlyphs">$500K-$600K</text>
<text x="1769.00" y="705.7" font-size="18.8" fill="#505050" textLength="22.35" lengthAdjust="spacingAndGlyphs">7%</text>
<text x="1728.60" y="773.4" font-size="20.3" fill="#505050" textLength="102.51" lengthAdjust="spacingAndGlyphs">$600K-$800K</text>
<text x="1769.00" y="796.6" font-size="18.8" fill="#505050" textLength="22.35" lengthAdjust="spacingAndGlyphs">5%</text>
<text x="1636.50" y="793" font-size="20.3" fill="#505050" textLength="88.66" lengthAdjust="spacingAndGlyphs">$800K-$1M</text>
<text x="1668.60" y="816.2" font-size="18.8" fill="#505050" textLength="23.14" lengthAdjust="spacingAndGlyphs">2%</text>
<text x="1439.60" y="805" font-size="20.3" fill="#505050" textLength="63.01" lengthAdjust="spacingAndGlyphs">0-$150K</text>
<text x="1459.60" y="828.2" font-size="18.8" fill="#505050" textLength="22.55" lengthAdjust="spacingAndGlyphs">5%</text>
<text x="1317.00" y="803" font-size="20.3" fill="#505050" textLength="83.00" lengthAdjust="spacingAndGlyphs">$150-200K</text>
<text x="1347.00" y="826.2" font-size="18.8" fill="#505050" textLength="22.75" lengthAdjust="spacingAndGlyphs">6%</text>
<text x="1167.57" y="720.6" font-size="20.3" fill="#505050" textLength="93.04" lengthAdjust="spacingAndGlyphs">200K-$250K</text>
<text x="1197.73" y="743.8" font-size="18.8" fill="#505050" textLength="32.61" lengthAdjust="spacingAndGlyphs">14%</text>
</g>
</svg></body></html>
